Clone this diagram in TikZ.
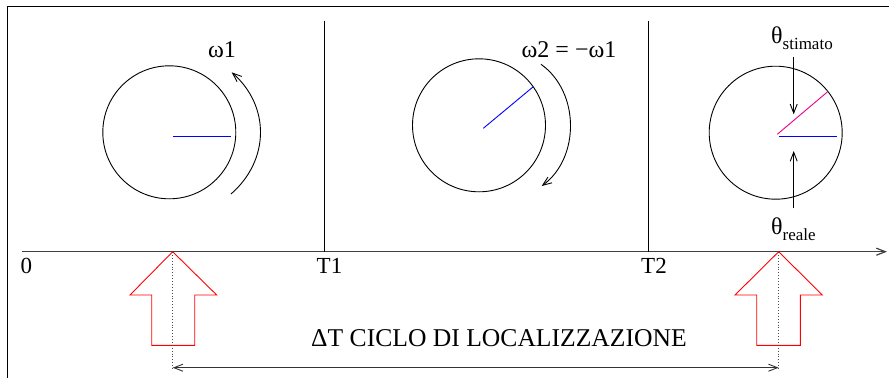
\documentclass[tikz,border=0pt]{standalone}
\usepackage{fontspec}
\setmainfont{Liberation Serif}
\usetikzlibrary{arrows.meta}
\begin{document}
\begin{tikzpicture}[x=1pt,y=-1pt,
  thinline/.style={line width=0.9pt,black},
  stick/.style={-{Straight Barb[length=9pt,width=7pt]}},
  lbl/.style={inner sep=0pt,anchor=base west},
  blockarrow/.style={draw=red,line width=0.9pt,line join=miter},
  wheel/.style={draw,line width=0.9pt,circle,minimum size=133pt,inner sep=0pt}]
\useasboundingbox (0,0) rectangle (889,378);
% frame
\draw[thinline] (7,378) -- (7,6) -- (889,6);
% time axis
\coordinate (ax0) at (22,251.7);
\coordinate (ax1) at (887,251.7);
\draw[line width=1.2pt,black!75,stick] (ax0) -- (ax1);
% vertical separators
\coordinate (t1top) at (324.3,20.7);
\coordinate (t1bot) at (324.3,251.7);
\coordinate (t2top) at (648.5,20.7);
\coordinate (t2bot) at (648.5,251.7);
\draw[thinline] (t1top) -- (t1bot);
\draw[thinline] (t2top) -- (t2bot);
% axis labels
\node[lbl,font=\fontsize{23}{23}\selectfont] (l0) at (20.5,273.5) {0};
\node[lbl,font=\fontsize{23}{23}\selectfont] (lT1) at (316.5,273.5) {T1};
\node[lbl,font=\fontsize{23}{23}\selectfont] (lT2) at (641,273.5) {T2};
% wheels
\node[wheel] (w1) at (169.3,132.3) {};
\node[wheel] (w2) at (479,125.3) {};
\node[wheel] (w3) at (775.7,132.7) {};
% wheel 1
\coordinate (b1a) at (173.3,136.3);
\coordinate (b1b) at (230.7,136.3);
\draw[blue,line width=0.9pt] (b1a) -- (b1b);
\coordinate (r1s) at (231,194);
\coordinate (r1e) at (231.7,72.3);
\draw[thinline,stick] (r1s) .. controls (270,160) and (270,106) .. (r1e);
\node[lbl,font=\fontsize{24}{24}\selectfont] (om1) at (208,57) {ω1};
% wheel 2
\coordinate (b2a) at (483.3,128.3);
\coordinate (b2b) at (533.3,86.7);
\draw[blue,line width=0.9pt] (b2a) -- (b2b);
\coordinate (r2s) at (541,64.3);
\coordinate (r2e) at (541.7,186);
\draw[thinline,stick] (r2s) .. controls (580,92) and (580,158) .. (r2e);
\node[lbl,font=\fontsize{24}{24}\selectfont] (om2) at (521.5,57.5) {ω2 = −ω1};
% wheel 3
\coordinate (m3a) at (777.3,134.3);
\coordinate (m3b) at (827.3,92);
\draw[magenta,line width=0.9pt] (m3a) -- (m3b);
\coordinate (b3a) at (779,136.3);
\coordinate (b3b) at (836.7,136.3);
\draw[blue,line width=0.9pt] (b3a) -- (b3b);
\coordinate (s3a) at (793.7,57.3);
\coordinate (s3b) at (793.7,114.3);
\draw[thinline,stick] (s3a) -- (s3b);
\coordinate (s3c) at (793.7,208.3);
\coordinate (s3d) at (793.7,151);
\draw[thinline,stick] (s3c) -- (s3d);
\node[lbl,font=\fontsize{24}{24}\selectfont] (thst) at (771,43.3) {θ\raisebox{-6pt}{\fontsize{17}{17}\selectfont stimato}};
\node[lbl,font=\fontsize{24}{24}\selectfont] (thre) at (771,234.5) {θ\raisebox{-6pt}{\fontsize{17}{17}\selectfont reale}};
% block arrows
\draw[blockarrow] (172.7,251.7) -- (216.7,295) -- (194.7,295) -- (194.7,345.3)
  -- (151.7,345.3) -- (151.7,295) -- (130,295) -- cycle;
\draw[blockarrow] (778.7,251.7) -- (822.3,295) -- (800.3,295) -- (800.3,345.3)
  -- (756.7,345.3) -- (756.7,295) -- (735,295) -- cycle;
% dotted guides
\coordinate (d1a) at (172.7,252);
\coordinate (d1b) at (172.7,370);
\coordinate (d2a) at (778.7,252);
\coordinate (d2b) at (778.7,370);
\draw[black!70,line width=0.9pt,dotted] (d1a) -- (d1b);
\draw[black!70,line width=0.9pt,dotted] (d2a) -- (d2b);
% cycle interval
\coordinate (c1) at (172.7,367.7);
\coordinate (c2) at (778.7,367.7);
\draw[line width=0.9pt,black!80,{Straight Barb[length=9pt,width=7pt]}-{Straight Barb[length=9pt,width=7pt]}] (c1) -- (c2);
\node[lbl,font=\fontsize{25.6}{25.6}\selectfont] (dt) at (311,346.7) {ΔT CICLO DI LOCALIZZAZIONE};
\end{tikzpicture}
\end{document}
